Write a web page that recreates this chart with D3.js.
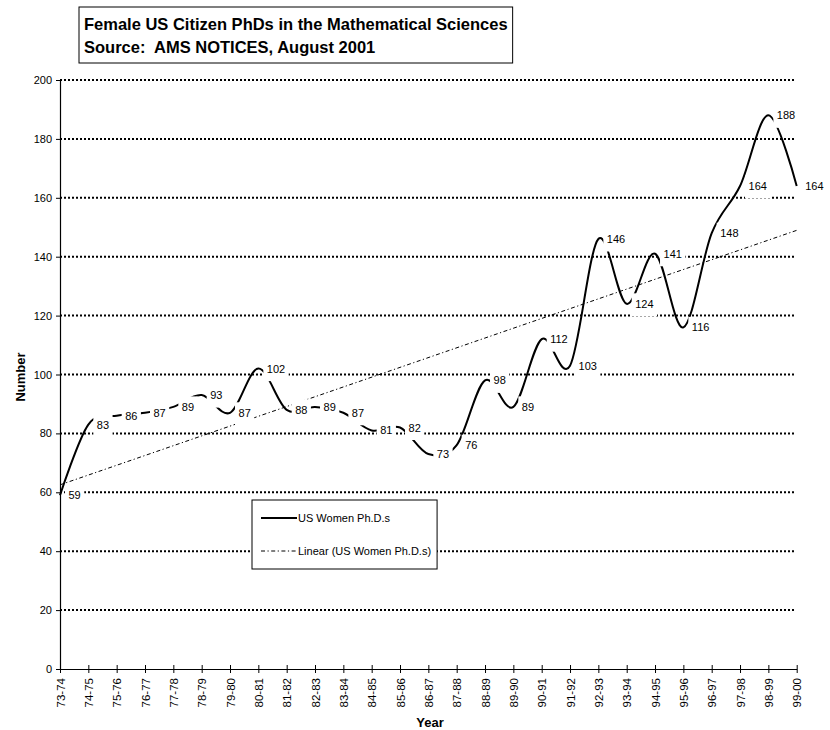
<!DOCTYPE html>
<html>
<head>
<meta charset="utf-8">
<script src="https://cdn.jsdelivr.net/npm/d3@7"></script>
<style>
  body { margin: 0; background: #fff; }
  svg { display: block; font-family: Arial, "Liberation Sans", sans-serif; }
</style>
</head>
<body>
<svg id="chart" width="830" height="730"></svg>
<script>
// Academic years on the category axis
const years = ["73-74","74-75","75-76","76-77","77-78","78-79","79-80","80-81","81-82",
  "82-83","83-84","84-85","85-86","86-87","87-88","88-89","89-90","90-91","91-92",
  "92-93","93-94","94-95","95-96","96-97","97-98","98-99","99-00"];

// Number of PhDs awarded to female US citizens each year
const phds = [59,83,86,87,89,93,87,102,88,89,87,81,82,73,76,98,89,112,103,146,124,141,116,148,164,188,164];

// Value axis ticks
const yTicks = [0,20,40,60,80,100,120,140,160,180,200];

const titleLines = ["Female US Citizen PhDs in the Mathematical Sciences",
                    "Source:  AMS NOTICES, August 2001"];
const seriesName = "US Women Ph.D.s";
const trendName = "Linear (US Women Ph.D.s)";
const xTitle = "Year";
const yTitle = "Number";

const svg = d3.select("#chart");
const plotLeft = 60, plotRight = 796.7, plotTop = 80, plotBottom = 669;

const x = d3.scalePoint().domain(years).range([plotLeft, plotRight]);
const y = d3.scaleLinear().domain([0, 200]).range([plotBottom, plotTop]);

const points = years.map((yr, i) => ({ year: yr, value: phds[i], i }));

// Dotted horizontal gridlines
svg.append("g").selectAll("line")
  .data(yTicks.filter(v => v > 0))
  .join("line")
  .attr("x1", plotLeft).attr("x2", plotRight - 2)
  .attr("y1", d => y(d)).attr("y2", d => y(d))
  .attr("stroke", "#000").attr("stroke-width", 2)
  .attr("stroke-dasharray", "2,2");

// Least-squares linear trend over the category index
const n = points.length;
const mx = d3.mean(points, d => d.i), my = d3.mean(points, d => d.value);
const slope = d3.sum(points, d => (d.i - mx) * (d.value - my)) / d3.sum(points, d => (d.i - mx) ** 2);
const icpt = my - slope * mx;
const trend = [points[0], points[n - 1]].map(d => ({ year: d.year, value: icpt + slope * d.i }));

svg.append("line")
  .attr("x1", x(trend[0].year)).attr("y1", y(trend[0].value))
  .attr("x2", x(trend[1].year)).attr("y2", y(trend[1].value))
  .attr("stroke", "#000").attr("stroke-width", 1)
  .attr("stroke-dasharray", "4,2.5,1.2,2.5");

// Smoothed series line
const line = d3.line()
  .x(d => x(d.year)).y(d => y(d.value))
  .curve(d3.curveCardinal.tension(0));

svg.append("path")
  .datum(points)
  .attr("d", line)
  .attr("fill", "none")
  .attr("stroke", "#000").attr("stroke-width", 2);

// Data labels on white boxes to the right of each point
const labels = svg.append("g").selectAll("g").data(points).join("g")
  .attr("transform", d => `translate(${x(d.year)},${y(d.value)})`);
labels.append("rect").attr("fill", "#fff");
labels.append("text")
  .attr("x", 8.5).attr("y", 4)
  .attr("font-size", 11).attr("fill", "#000")
  .text(d => d.value);
labels.each(function () {
  const g = d3.select(this);
  const w = g.select("text").node().getComputedTextLength();
  g.select("rect").attr("x", 5).attr("y", -10.5).attr("width", w + 7).attr("height", 23);
});

// Value axis
const yAxis = svg.append("g").attr("transform", `translate(${plotLeft},0)`)
  .call(d3.axisLeft(y).tickValues(yTicks).tickSize(4).tickSizeOuter(0).tickPadding(4));
yAxis.select(".domain").attr("stroke", "#000").attr("stroke-width", 1.2);
yAxis.selectAll(".tick line").attr("stroke", "#000");
yAxis.selectAll(".tick text").attr("font-size", 11).attr("font-family", "Arial, 'Liberation Sans', sans-serif").attr("fill", "#000");

// Category axis with crossing ticks and vertical labels
const xAxis = svg.append("g").attr("transform", `translate(0,${plotBottom})`)
  .call(d3.axisBottom(x).tickSize(4).tickSizeOuter(0));
xAxis.select(".domain").attr("stroke", "#000").attr("stroke-width", 1.2);
xAxis.selectAll(".tick line").attr("y1", -4).attr("y2", 4).attr("stroke", "#000");
xAxis.selectAll(".tick text")
  .attr("font-size", 11.5).attr("font-family", "Arial, 'Liberation Sans', sans-serif").attr("fill", "#000")
  .attr("transform", "rotate(-90)")
  .attr("text-anchor", "end")
  .attr("x", -9).attr("y", 0).attr("dy", "0.35em");

// Axis titles
svg.append("text")
  .attr("x", 430).attr("y", 727)
  .attr("text-anchor", "middle").attr("font-weight", "bold").attr("font-size", 13)
  .text(xTitle);
svg.append("text")
  .attr("transform", "translate(25,377) rotate(-90)")
  .attr("text-anchor", "middle").attr("font-weight", "bold").attr("font-size", 13)
  .text(yTitle);

// Title box
const titleG = svg.append("g");
const titleRect = titleG.append("rect")
  .attr("x", 79).attr("y", 7).attr("height", 56)
  .attr("fill", "#fff").attr("stroke", "#000").attr("stroke-width", 1);
const titleTexts = titleG.selectAll("text").data(titleLines).join("text")
  .attr("x", 84).attr("y", (d, i) => 30 + i * 23)
  .attr("font-weight", "bold").attr("font-size", 16.5).attr("fill", "#000")
  .style("white-space", "pre")
  .text(d => d);
const titleW = d3.max(titleTexts.nodes(), nd => nd.getComputedTextLength());
titleRect.attr("width", titleW + 10);

// Legend
const lg = svg.append("g");
const lgRect = lg.append("rect")
  .attr("x", 252).attr("y", 500).attr("height", 69)
  .attr("fill", "#fff").attr("stroke", "#000").attr("stroke-width", 1);
lg.append("line").attr("x1", 261).attr("x2", 297).attr("y1", 518).attr("y2", 518)
  .attr("stroke", "#000").attr("stroke-width", 2);
lg.append("line").attr("x1", 261).attr("x2", 297).attr("y1", 551).attr("y2", 551)
  .attr("stroke", "#000").attr("stroke-width", 1).attr("stroke-dasharray", "4,2.5,1.2,2.5");
const lgTexts = lg.selectAll("text").data([seriesName, trendName]).join("text")
  .attr("x", 298).attr("y", (d, i) => 522 + i * 33)
  .attr("font-size", 11).attr("fill", "#000")
  .text(d => d);
const lgW = d3.max(lgTexts.nodes(), nd => nd.getComputedTextLength());
lgRect.attr("width", 298 + lgW + 6 - 252);
</script>
</body>
</html>
